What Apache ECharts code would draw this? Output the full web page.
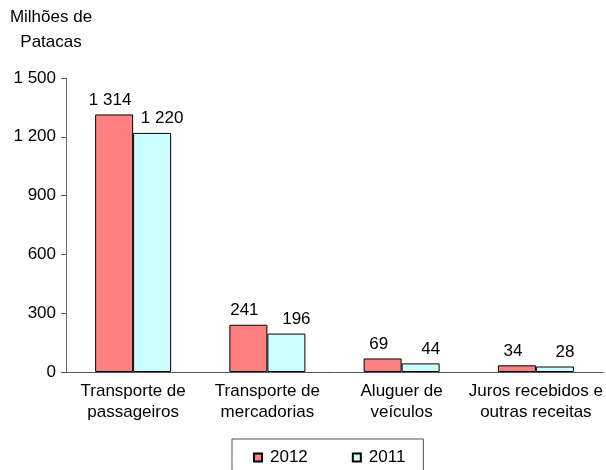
<!DOCTYPE html>
<html>
<head>
<meta charset="utf-8">
<script src="https://cdn.jsdelivr.net/npm/echarts@6/dist/echarts.min.js"></script>
<style>
  html, body { margin: 0; padding: 0; background: #fff; }
  #chart { width: 606px; height: 470px; }
</style>
</head>
<body>
<div id="chart"></div>
<script>
const categories = ['Transporte de\npassageiros', 'Transporte de\nmercadorias', 'Aluguer de\nveículos', 'Juros recebidos e\noutras receitas'];
const values2012 = [1314, 241, 69, 34];
const values2011 = [1220, 196, 44, 28];
const seriesNames = ['2012', '2011'];

const FONT = 'Liberation Sans, Arial, sans-serif';
const fmt = v => String(v).replace(/\B(?=(\d{3})+(?!\d))/g, ' ');

const chart = echarts.init(document.getElementById('chart'));
chart.setOption({
  animation: false,
  textStyle: { fontFamily: FONT, color: '#000' },
  graphic: [
    { type: 'text', x: 51, y: 9, style: { text: 'Milhões de', font: '17px ' + FONT, fill: '#000', align: 'center' } },
    { type: 'text', x: 51, y: 34, style: { text: 'Patacas', font: '17px ' + FONT, fill: '#000', align: 'center' } }
  ],
  legend: {
    data: seriesNames,
    left: 232,
    top: 439,
    padding: [10, 18, 20, 21],
    borderColor: '#555',
    borderWidth: 1,
    borderRadius: 0,
    itemWidth: 8,
    itemHeight: 8,
    itemGap: 44,
    icon: 'rect',
    textStyle: { fontSize: 17, fontFamily: FONT, color: '#000', padding: [0, 0, 0, 3] }
  },
  grid: { left: 66, right: 3, top: 78, bottom: 98, containLabel: false },
  xAxis: {
    type: 'category',
    data: categories,
    axisLine: { lineStyle: { color: '#555', width: 1 } },
    axisTick: { inside: true, length: 5, lineStyle: { color: '#555' } },
    axisLabel: { fontSize: 17, color: '#000', lineHeight: 21, margin: 9, interval: 0 }
  },
  yAxis: {
    type: 'value',
    min: 0,
    max: 1500,
    interval: 300,
    splitLine: { show: false },
    axisLine: { show: true, lineStyle: { color: '#666', width: 1 } },
    axisTick: { show: true, length: 5, lineStyle: { color: '#555' } },
    axisLabel: { fontSize: 17, color: '#000', margin: 10, formatter: fmt }
  },
  series: [
    {
      name: seriesNames[0],
      type: 'bar',
      data: values2012,
      barWidth: 38,
      barGap: '0%',
      itemStyle: { color: '#FF8080', borderColor: '#000', borderWidth: 1 },
      label: { show: true, position: 'top', distance: 6, offset: [-4, 0], fontSize: 17, color: '#000', formatter: p => fmt(p.value) }
    },
    {
      name: seriesNames[1],
      type: 'bar',
      data: values2011,
      barWidth: 38,
      barGap: '0%',
      itemStyle: { color: '#CCFFFF', borderColor: '#000', borderWidth: 1 },
      label: { show: true, position: 'top', distance: 6, offset: [10, 0], fontSize: 17, color: '#000', formatter: p => fmt(p.value) }
    }
  ]
});
</script>
</body>
</html>
